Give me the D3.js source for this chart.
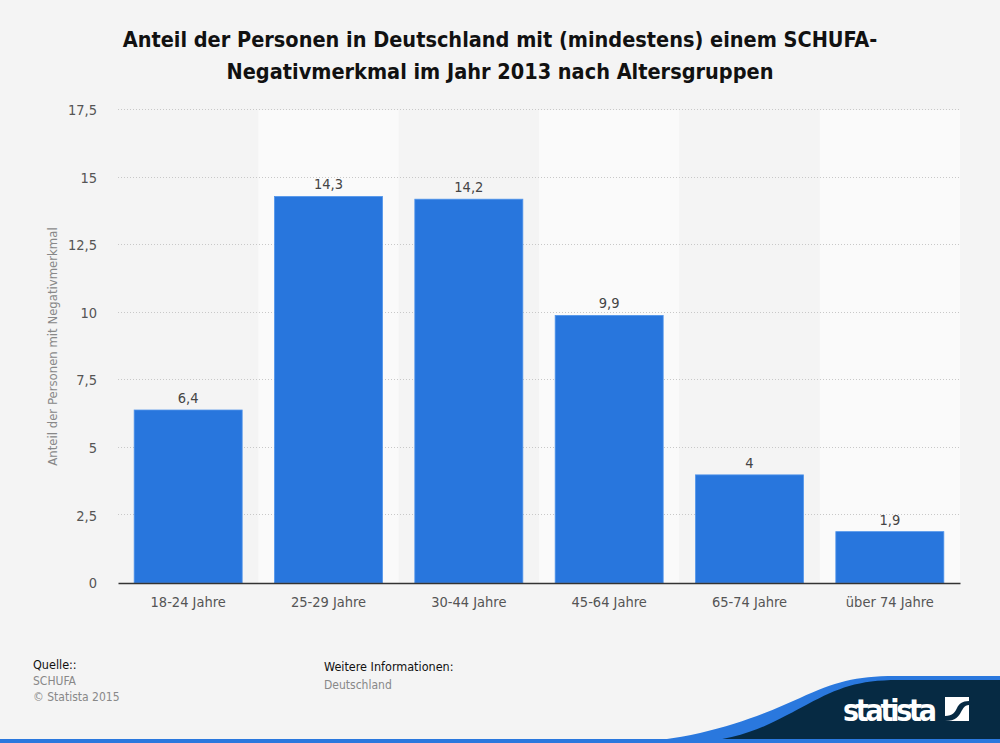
<!DOCTYPE html>
<html lang="de">
<head>
  <meta charset="utf-8">
  <title>SCHUFA Negativmerkmal 2013</title>
  <script src="https://d3js.org/d3.v7.min.js"></script>
  <style>
    body { margin: 0; background: #f4f4f4; }
    text { font-family: "DejaVu Sans Condensed", "DejaVu Sans", sans-serif; }
  </style>
</head>
<body>
<div class="chart"></div>
<script>
var categories = ["18-24 Jahre", "25-29 Jahre", "30-44 Jahre", "45-64 Jahre", "65-74 Jahre", "über 74 Jahre"];
var values = [6.4, 14.3, 14.2, 9.9, 4, 1.9];
var yTicks = [0, 2.5, 5, 7.5, 10, 12.5, 15, 17.5];

var W = 1000, H = 743;
var m = {top: 110, right: 40, bottom: 160, left: 118};
var w = W - m.left - m.right,
    h = H - m.top - m.bottom;

var fmt = function(v){ return String(v).replace(".", ","); };

var svg = d3.select(".chart").append("svg")
  .attr("width", W)
  .attr("height", H);

svg.append("rect").attr("width", W).attr("height", H).style("fill", "#f4f4f4");

// title
var title = svg.append("text")
  .attr("x", 500)
  .attr("text-anchor", "middle")
  .style("font-size", "21.5px")
  .style("font-weight", "bold")
  .style("fill", "#111");
title.append("tspan").attr("x", 500).attr("y", 47).text("Anteil der Personen in Deutschland mit (mindestens) einem SCHUFA-");
title.append("tspan").attr("x", 500).attr("y", 79).text("Negativmerkmal im Jahr 2013 nach Altersgruppen");

var g = svg.append("g")
  .attr("transform", "translate(" + m.left + "," + m.top + ")");

var x = d3.scaleBand().domain(categories).range([0, w]);
var y = d3.scaleLinear().domain([0, 17.5]).range([h, 0]);

// alternating band backgrounds
g.selectAll(".band")
  .data(categories.filter(function(d, i){ return i % 2 == 1; }))
  .enter().append("rect")
  .attr("class", "band")
  .attr("x", function(d){ return x(d); })
  .attr("y", 0)
  .attr("width", x.bandwidth())
  .attr("height", h)
  .style("fill", "#fafafa");

// gridlines
g.selectAll(".grid")
  .data(yTicks.slice(1))
  .enter().append("line")
  .attr("class", "grid")
  .attr("x1", 0)
  .attr("x2", w)
  .attr("y1", function(d){ return Math.round(y(d)) - 0.5; })
  .attr("y2", function(d){ return Math.round(y(d)) - 0.5; })
  .style("stroke", "#c8c8c8")
  .style("stroke-dasharray", "1,2");

// y tick labels
var yAxis = g.append("g")
  .call(d3.axisLeft(y).tickValues(yTicks).tickFormat(fmt).tickSize(0).tickPadding(21));
yAxis.select(".domain").remove();
yAxis.selectAll("text")
  .style("font-family", '"DejaVu Sans Condensed", "DejaVu Sans", sans-serif')
  .style("font-size", "14.5px")
  .style("fill", "#555");

// bars
var barW = 108;
g.selectAll(".bar")
  .data(values)
  .enter().append("rect")
  .attr("class", "bar")
  .attr("x", function(d, i){ return x(categories[i]) + (x.bandwidth() - barW) / 2; })
  .attr("y", function(d){ return y(d); })
  .attr("width", barW)
  .attr("height", function(d){ return h - y(d); })
  .style("fill", "#2876dd")
  .style("stroke", "#5094ea")
  .style("stroke-width", "0.8");

// value labels
g.selectAll(".val")
  .data(values)
  .enter().append("text")
  .attr("class", "val")
  .attr("x", function(d, i){ return x(categories[i]) + x.bandwidth() / 2; })
  .attr("y", function(d){ return y(d) - 7; })
  .attr("text-anchor", "middle")
  .style("font-size", "14.5px")
  .style("fill", "#444")
  .text(fmt);

// x axis
var xAxis = g.append("g")
  .attr("transform", "translate(0," + h + ")")
  .call(d3.axisBottom(x).tickSize(0).tickPadding(14));
xAxis.select(".domain").style("stroke", "#333").style("stroke-width", "1.6");
xAxis.selectAll("text")
  .style("font-family", '"DejaVu Sans Condensed", "DejaVu Sans", sans-serif')
  .style("font-size", "14.5px")
  .style("fill", "#555");

// y axis title
svg.append("text")
  .attr("transform", "translate(57," + (m.top + h / 2) + ") rotate(-90)")
  .attr("text-anchor", "middle")
  .style("font-size", "13px")
  .style("fill", "#888")
  .text("Anteil der Personen mit Negativmerkmal");

// footer
svg.append("text").attr("x", 33).attr("y", 669).style("font-size", "12.5px").style("fill", "#111").text("Quelle::");
svg.append("text").attr("x", 33).attr("y", 685).style("font-size", "12px").style("fill", "#888").text("SCHUFA");
svg.append("text").attr("x", 33).attr("y", 701).style("font-size", "12px").style("fill", "#888").text("© Statista 2015");
svg.append("text").attr("x", 324).attr("y", 671).style("font-size", "12.5px").style("fill", "#111").text("Weitere Informationen:");
svg.append("text").attr("x", 324).attr("y", 689).style("font-size", "12px").style("fill", "#888").text("Deutschland");

// logo
svg.append("path")
  .attr("d", "M620,743 C700,741 760,716 800,698 C835,682 855,676 895,676 L1000,676 L1000,743 Z")
  .style("fill", "#2a78de");
svg.append("path")
  .attr("d", "M690,743 C750,740 780,718 808,704 C838,688 858,680 898,680 L1000,680 L1000,743 Z")
  .style("fill", "#062a43");
svg.append("rect").attr("x", 0).attr("y", 739).attr("width", W).attr("height", 4).style("fill", "#2a78de");
svg.append("text")
  .attr("x", 843).attr("y", 721)
  .attr("textLength", 94)
  .style("font-size", "30px")
  .style("font-weight", "bold")
  .style("fill", "#fff")
  .text("statista");
svg.append("rect").attr("x", 945).attr("y", 697).attr("width", 24).attr("height", 24).style("fill", "#fff");
svg.append("path")
  .attr("d", "M945,716 C953,716 955,712 957,708 C959,704 962,701 969,701 L969,705 C964,705 963,709 961,712 C959,716 956,721 945,721 Z")
  .style("fill", "#062a43");
</script>
</body>
</html>
